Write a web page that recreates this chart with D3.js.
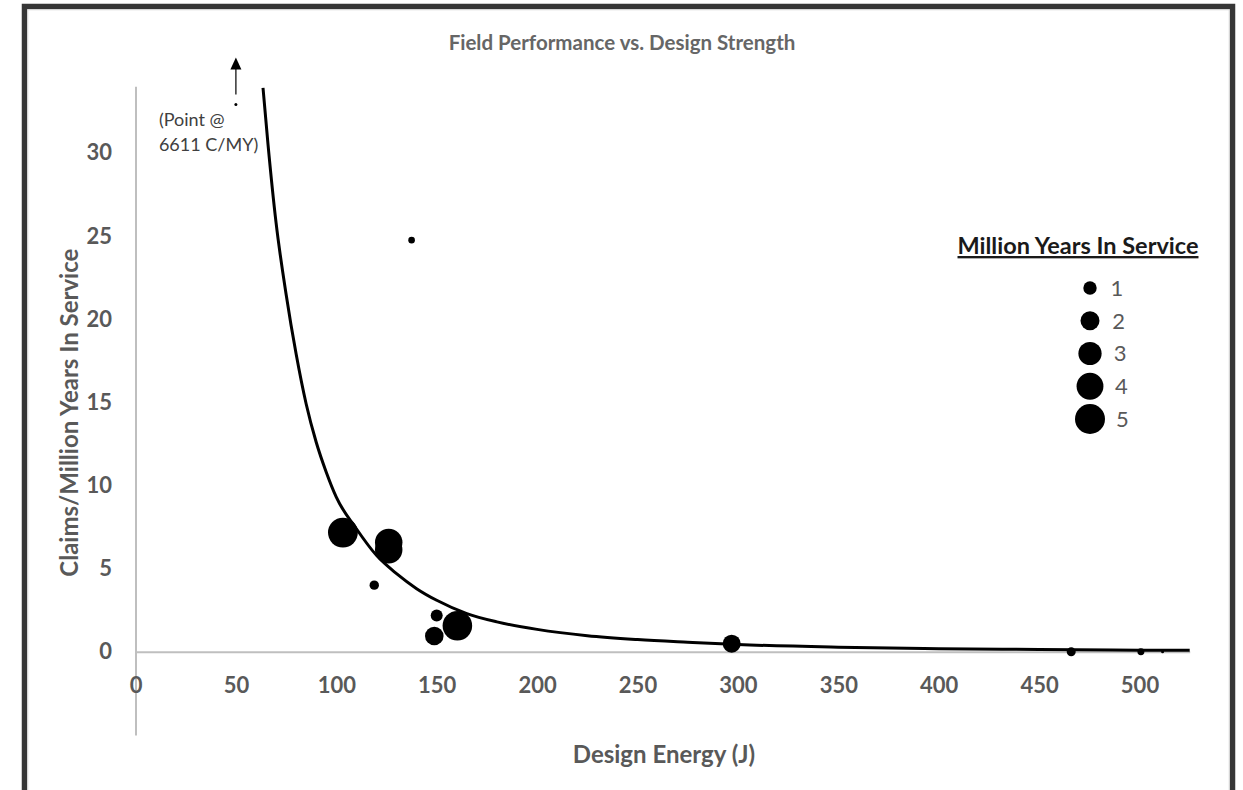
<!DOCTYPE html>
<html>
<head>
<meta charset="utf-8">
<script src="https://cdn.jsdelivr.net/npm/d3@7"></script>
<style>
  html, body { margin: 0; padding: 0; background: #ffffff; }
  svg { display: block; }
  text { font-family: Lato, "Open Sans", "DejaVu Sans", sans-serif; }
</style>
</head>
<body>
<svg id="chart" width="1243" height="790"></svg>
<script>
// ---- Data ----
const energyJ      = [103.3, 126.1, 126.1, 118.9, 150.0, 148.8, 160.3, 137.5, 296.9, 466.0, 500.7, 511.5, 50.0];
const claimsPerMY  = [7.17, 6.58, 6.14, 4.01, 2.19, 0.95, 1.57, 24.75, 0.49, 0.0, 0.0, 0.0, 6611];
const serviceMY    = [4.95, 4.2, 4.2, 0.49, 0.8, 1.92, 4.85, 0.24, 1.8, 0.45, 0.27, 0.05, 0.05];
const offScaleCap  = 32.9;            // where the off-scale point is drawn
const trendX = [63.5, 66, 70, 75, 80, 85, 90, 95, 100, 110, 120, 130, 140, 150, 165, 180, 200, 225, 250, 275, 300, 350, 400, 450, 500, 525];
const trendY = [33.9, 30.5, 25.8, 21.5, 17.9, 14.9, 12.6, 10.8, 9.3, 7.4, 5.8, 4.7, 3.8, 3.1, 2.3, 1.8, 1.35, 0.97, 0.74, 0.58, 0.44, 0.28, 0.19, 0.14, 0.10, 0.09];
const xTicks = [0, 50, 100, 150, 200, 250, 300, 350, 400, 450, 500];
const yTicks = [0, 5, 10, 15, 20, 25, 30];
const legendSizes = [1, 2, 3, 4, 5];
const titleText = "Field Performance vs. Design Strength";
const xTitle = "Design Energy (J)";
const yTitle = "Claims/Million Years In Service";
const legendTitle = "Million Years In Service";
const noteLines = ["(Point @", "6611 C/MY)"];

// ---- Layout ----
const svg = d3.select("#chart");
const axisGray = "#bfbfbf";
const textGray = "#595959";

// frame
svg.append("rect").attr("x", 24.5).attr("y", 6.5).attr("width", 1208).attr("height", 800)
  .attr("fill", "#fff").attr("stroke", "#363636").attr("stroke-width", 5.5);
svg.append("rect").attr("x", 27.8).attr("y", 9.8).attr("width", 1201.4).attr("height", 800)
  .attr("fill", "none").attr("stroke", "#d9d9d9").attr("stroke-width", 1);

const x = d3.scaleLinear().domain([0, 525]).range([135.5, 1189.7]);
const y = d3.scaleLinear().domain([-5, 34]).range([735, 86.3]);
const r = d3.scaleSqrt().domain([0, 5]).range([0, 15]);

// title
svg.append("text").attr("x", 622).attr("y", 50).attr("text-anchor", "middle")
  .attr("font-size", 20.5).attr("font-weight", 700).attr("fill", "#666666").text(titleText);

// y axis
const gy = svg.append("g").attr("transform", `translate(${x(0)},0)`)
  .call(d3.axisLeft(y).tickValues(yTicks).tickSize(0).tickSizeOuter(0).tickPadding(23.5));
gy.select(".domain").attr("stroke", axisGray).attr("stroke-width", 2);
gy.selectAll("text").attr("font-size", 22).attr("font-weight", 700).attr("fill", textGray)
  .attr("font-family", 'Lato, "Open Sans", sans-serif');

// x axis
const gx = svg.append("g").attr("transform", `translate(0,${y(0)})`)
  .call(d3.axisBottom(x).tickValues(xTicks).tickSize(0).tickSizeOuter(0).tickPadding(26));
gx.select(".domain").attr("stroke", axisGray).attr("stroke-width", 2);
gx.selectAll("text").attr("font-size", 22).attr("font-weight", 700).attr("fill", textGray)
  .attr("font-family", 'Lato, "Open Sans", sans-serif');

// axis titles
svg.append("text").attr("x", 664).attr("y", 763).attr("text-anchor", "middle")
  .attr("font-size", 24).attr("font-weight", 700).attr("fill", textGray).text(xTitle);
svg.append("text").attr("transform", `translate(78,${(y(-5) + y(34)) / 2 + 2}) rotate(-90)`)
  .attr("text-anchor", "middle")
  .attr("font-size", 24).attr("font-weight", 700).attr("fill", textGray).text(yTitle);

// trend line
const trend = trendX.map((d, i) => [d, trendY[i]]);
svg.append("path").datum(trend)
  .attr("fill", "none").attr("stroke", "#000").attr("stroke-width", 3)
  .attr("d", d3.line().x(d => x(d[0])).y(d => y(d[1])).curve(d3.curveMonotoneX));

// bubbles
const pts = energyJ.map((e, i) => ({ e, c: claimsPerMY[i], s: serviceMY[i] }));
svg.append("g").selectAll("circle").data(pts).join("circle")
  .attr("cx", d => x(d.e))
  .attr("cy", d => y(Math.min(d.c, offScaleCap)))
  .attr("r", d => Math.max(r(d.s), 1.5))
  .attr("fill", "#000");

// off-scale annotation
const off = pts.find(d => d.c > offScaleCap);
const ox = x(off.e), oy = y(offScaleCap);
svg.append("line").attr("x1", ox).attr("x2", ox).attr("y1", oy - 10).attr("y2", oy - 36)
  .attr("stroke", "#000").attr("stroke-width", 1.2);
svg.append("path")
  .attr("d", `M${ox},${oy - 47} L${ox - 5.5},${oy - 35} L${ox + 5.5},${oy - 35} Z`)
  .attr("fill", "#000");
svg.append("g").selectAll("text").data(noteLines).join("text")
  .attr("x", ox - 77).attr("y", (d, i) => oy + 21 + i * 25)
  .attr("font-size", 18).attr("fill", "#404040").text(d => d);

// legend
const lg = svg.append("g");
lg.append("text").attr("x", 1078).attr("y", 254).attr("text-anchor", "middle")
  .attr("font-size", 23.5).attr("font-weight", 700).attr("fill", "#1a1a1a")
  .attr("text-decoration", "underline").text(legendTitle);
const ly = d3.scalePoint().domain(legendSizes).range([288, 419]);
lg.selectAll("circle").data(legendSizes).join("circle")
  .attr("cx", 1090).attr("cy", d => ly(d)).attr("r", d => r(d)).attr("fill", "#000");
lg.selectAll("text.lbl").data(legendSizes).join("text").attr("class", "lbl")
  .attr("x", d => 1106 + r(d) * 0.67).attr("y", d => ly(d)).attr("dy", "0.36em")
  .attr("font-size", 22).attr("fill", textGray).text(d => d);
</script>
</body>
</html>
